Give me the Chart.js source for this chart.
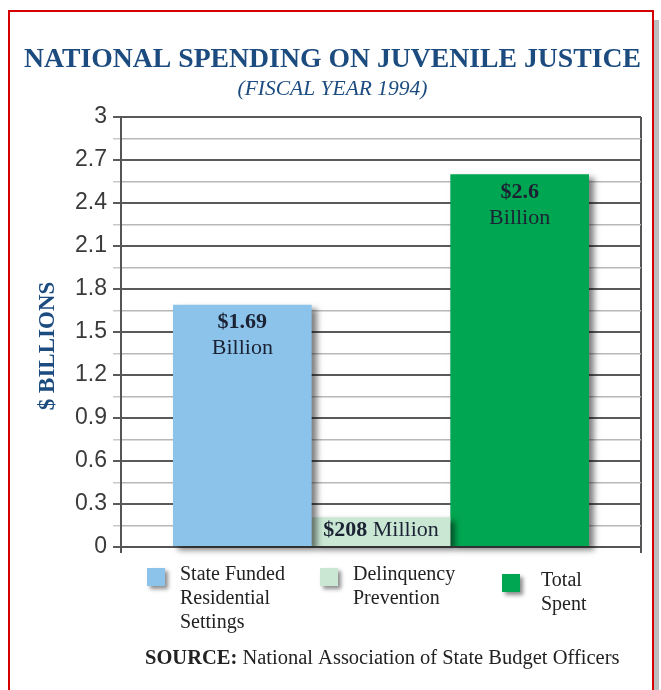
<!DOCTYPE html>
<html>
<head>
<meta charset="utf-8">
<title>National Spending on Juvenile Justice</title>
<script src="https://cdn.jsdelivr.net/npm/chart.js@4.4.1/dist/chart.umd.min.js"></script>
<style>
  html, body { margin: 0; padding: 0; background: #fff; }
  #wrap { position: relative; width: 661px; height: 690px; overflow: hidden; }
  #frame { position: absolute; left: 8px; top: 10px; width: 642px; height: 720px;
           border: 2px solid #d40000; box-shadow: 5px 10px 0 #bdbdbd; }
  #spendChart { position: absolute; left: 0; top: 0; }
</style>
</head>
<body>
<div id="wrap">
  <div id="frame"></div>
  <canvas id="spendChart" width="661" height="690"></canvas>
</div>
<script>
// fiscal year 1994, $ billions
const categories = ['FY 1994'];
const seriesNames = [['State Funded', 'Residential', 'Settings'], ['Delinquency', 'Prevention'], ['Total', 'Spent']];
const seriesValues = [1.69, 0.208, 2.6];
const seriesColors = ['#8cc3ea', '#c9e7d3', '#00a651'];
const yTicks = [0, 0.3, 0.6, 0.9, 1.2, 1.5, 1.8, 2.1, 2.4, 2.7, 3];
const yMinorStep = 0.15;

const SERIF = "'Liberation Serif', 'Times New Roman', serif";
const SANS = "'Liberation Sans', Arial, sans-serif";
const BLUE = '#1c4b7f';

const isMajor = v => yTicks.some(t => Math.abs(t - v) < 1e-6);

// text inside each bar: bold amount + unit
function valueLines(v) {
    if (v < 1) return [[['$' + Math.round(v * 1000), true], [' Million', false]]];
    return [[['$' + v, true]], [['Billion', false]]];
}

function drawRuns(ctx, runs, cx, cy, size) {
    const fonts = runs.map(r => (r[1] ? 'bold ' : '') + size + 'px ' + SERIF);
    const widths = runs.map((r, i) => { ctx.font = fonts[i]; return ctx.measureText(r[0]).width; });
    let x = cx - widths.reduce((a, b) => a + b, 0) / 2;
    runs.forEach((r, i) => {
        ctx.font = fonts[i];
        ctx.fillText(r[0], x, cy);
        x += widths[i];
    });
}

const barShadow = {
    id: 'barShadow',
    beforeDatasetDraw(chart) {
        const ctx = chart.ctx;
        ctx.save();
        ctx.shadowColor = 'rgba(0,0,0,0.5)';
        ctx.shadowBlur = 6;
        ctx.shadowOffsetX = 5;
        ctx.shadowOffsetY = 4;
    },
    afterDatasetDraw(chart) {
        chart.ctx.restore();
    }
};

const barLabels = {
    id: 'barLabels',
    afterDatasetsDraw(chart) {
        const ctx = chart.ctx;
        ctx.save();
        ctx.fillStyle = '#1b2233';
        ctx.textAlign = 'left';
        ctx.textBaseline = 'middle';
        chart.data.datasets.forEach((ds, i) => {
            const bar = chart.getDatasetMeta(i).data[0];
            const lines = valueLines(ds.data[0]);
            const first = lines.length > 1 ? 18 : 13;
            lines.forEach((runs, j) => drawRuns(ctx, runs, bar.x, bar.y + first + j * 26, 22));
        });
        ctx.restore();
    }
};

// axis title, legend under the plot, and the source line
const legendAndSource = {
    id: 'legendAndSource',
    afterDraw(chart) {
        const ctx = chart.ctx;
        const area = chart.chartArea;

        ctx.save();
        ctx.translate(48, (area.top + area.bottom) / 2 + 14);
        ctx.rotate(-Math.PI / 2);
        ctx.textAlign = 'center';
        ctx.textBaseline = 'middle';
        ctx.fillStyle = BLUE;
        ctx.font = 'bold 23px ' + SERIF;
        ctx.fillText('$ BILLIONS', 0, 0);
        ctx.restore();

        const colX = [147, 320, 502];
        const boxTop = [568, 568, 574];
        const textDx = [33, 33, 39];
        ctx.save();
        chart.data.datasets.forEach((ds, i) => {
            ctx.save();
            ctx.shadowColor = 'rgba(0,0,0,0.45)';
            ctx.shadowBlur = 4;
            ctx.shadowOffsetX = 3;
            ctx.shadowOffsetY = 3;
            ctx.fillStyle = ds.backgroundColor;
            ctx.fillRect(colX[i], boxTop[i], 18, 18);
            ctx.restore();
            ctx.fillStyle = '#222';
            ctx.font = '20px ' + SERIF;
            ctx.textBaseline = 'middle';
            ds.label.forEach((line, j) => ctx.fillText(line, colX[i] + textDx[i], boxTop[i] + 7 + j * 24));
        });
        ctx.textBaseline = 'middle';
        ctx.fillStyle = '#222';
        ctx.font = 'bold 20.5px ' + SERIF;
        const head = 'SOURCE:';
        ctx.fillText(head, 145, 659);
        const w = ctx.measureText(head).width;
        ctx.font = '20.5px ' + SERIF;
        ctx.fillText(' National Association of State Budget Officers', 145 + w, 659);
        ctx.restore();
    }
};

const data = {
    labels: categories,
    datasets: seriesValues.map((v, i) => ({
        label: seriesNames[i],
        data: [v],
        backgroundColor: seriesColors[i],
        borderWidth: 0,
        categoryPercentage: 0.8,
        barPercentage: 1.0,
        clip: false
    }))
};

const config = {
    type: 'bar',
    data: data,
    options: {
        responsive: false,
        devicePixelRatio: 1,
        animation: false,
        layout: {
            padding: { top: 20, left: 24, right: 20, bottom: 137 }
        },
        scales: {
            x: {
                grid: {
                    color: '#555',
                    lineWidth: 2,
                    drawTicks: true,
                    tickLength: 6
                },
                border: { color: '#555', width: 2 },
                ticks: { display: false }
            },
            y: {
                min: 0,
                max: 3,
                afterFit(scale) { scale.width = 97; },
                ticks: {
                    stepSize: yMinorStep,
                    autoSkip: false,
                    padding: 6,
                    color: '#3a3a3a',
                    font: { family: SANS, size: 23 },
                    callback: v => isMajor(v) ? String(Math.round(v * 10) / 10) : ''
                },
                grid: {
                    color: c => isMajor(c.tick.value) ? '#5a5a5a' : '#b8b8b8',
                    lineWidth: c => isMajor(c.tick.value) ? 2 : 1.5,
                    tickColor: c => isMajor(c.tick.value) ? '#5a5a5a' : '#c8c8c8',
                    tickLength: 8
                },
                border: { color: '#555', width: 2 }
            }
        },
        plugins: {
            legend: { display: false },
            tooltip: { enabled: false },
            title: {
                display: true,
                text: 'NATIONAL SPENDING ON JUVENILE JUSTICE',
                color: BLUE,
                font: { family: SERIF, size: 28, weight: 'bold' },
                padding: { top: 23, bottom: 0 }
            },
            subtitle: {
                display: true,
                text: '(FISCAL YEAR 1994)',
                color: BLUE,
                font: { family: SERIF, size: 21.5, style: 'italic' },
                padding: { top: 0, bottom: 14.5 }
            }
        }
    },
    plugins: [barShadow, barLabels, legendAndSource]
};

const spendChart = new Chart(document.getElementById('spendChart'), config);
</script>
</body>
</html>
